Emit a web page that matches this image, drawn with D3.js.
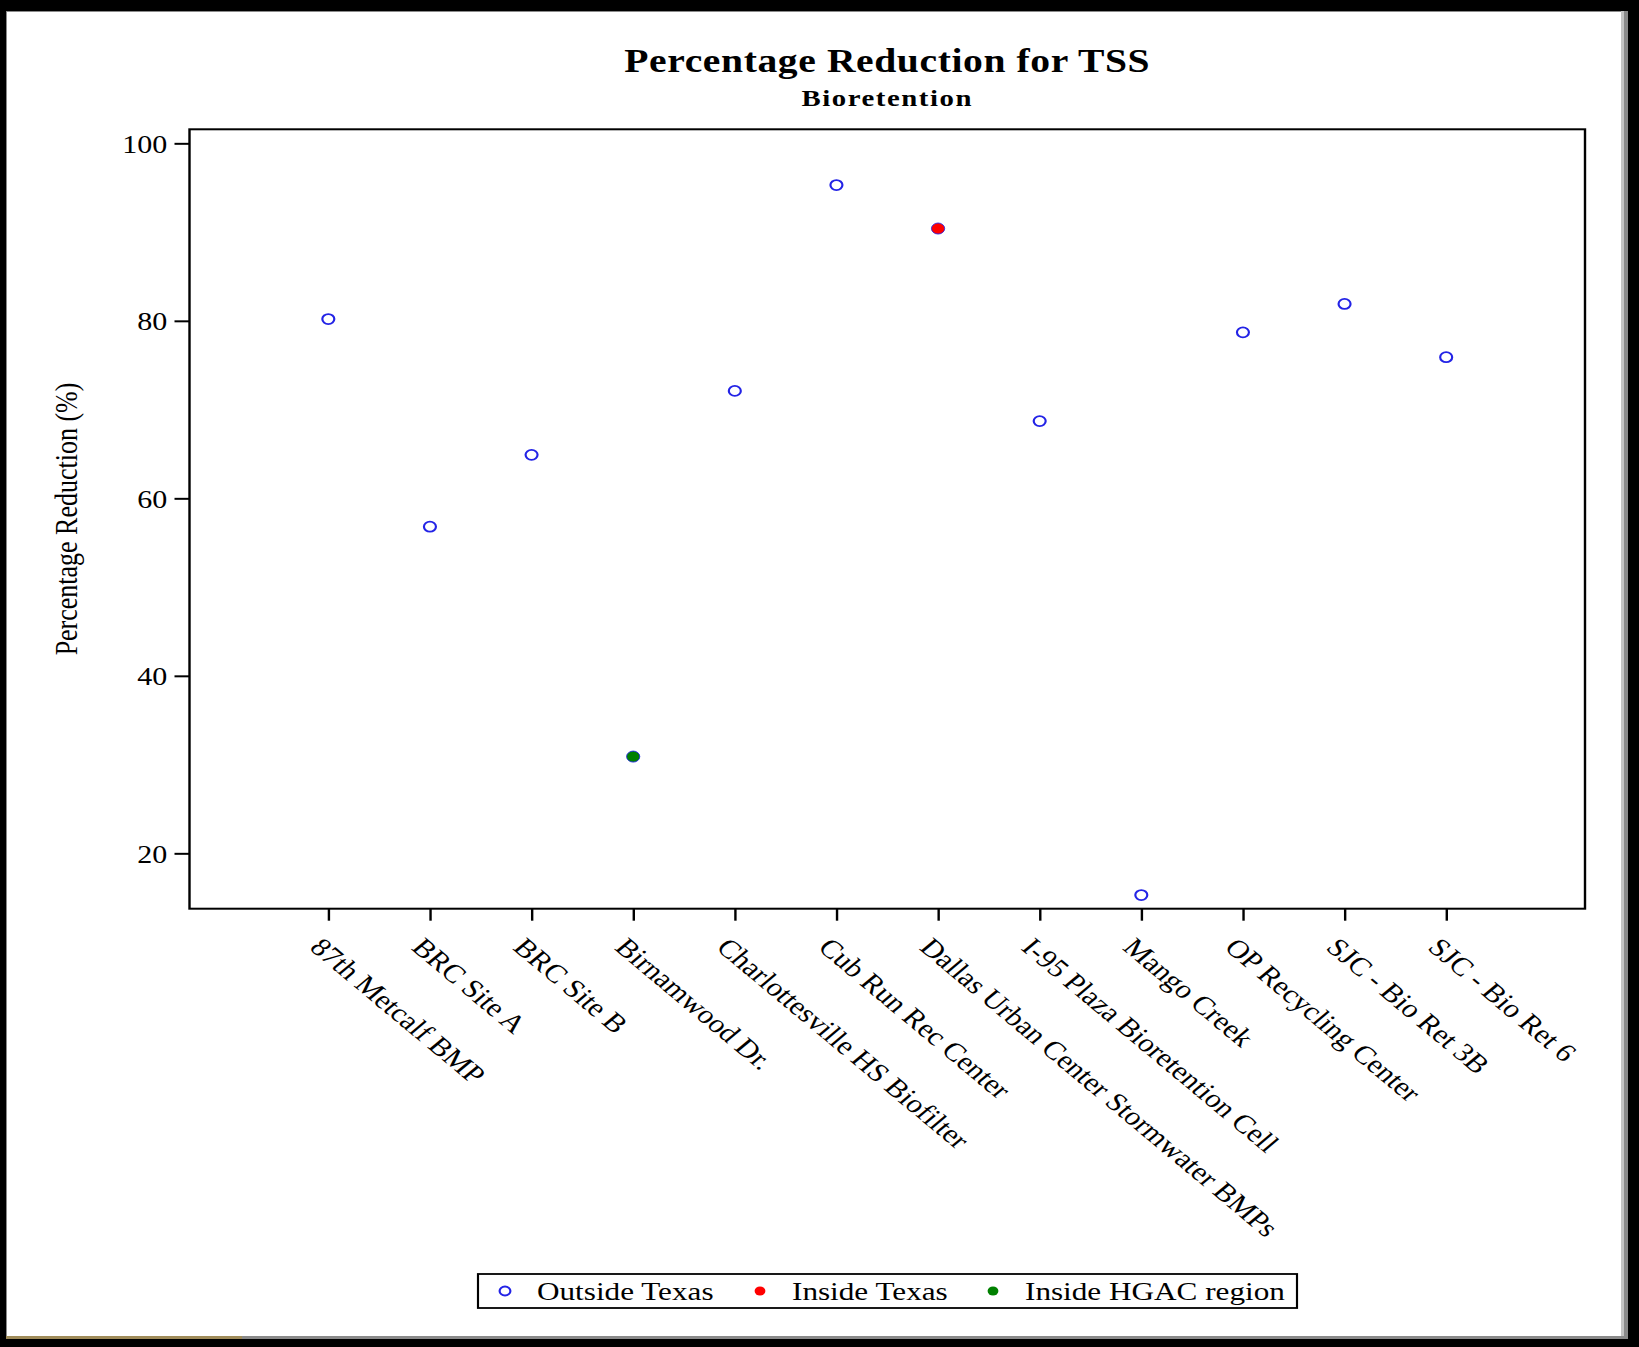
<!DOCTYPE html>
<html>
<head>
<meta charset="utf-8">
<script src="https://cdn.jsdelivr.net/npm/d3@7"></script>
<style>
  html, body { margin: 0; padding: 0; background: #000; }
  svg { display: block; }
</style>
</head>
<body>
<svg id="chart"></svg>
<script>
/* ── Data ── */
const sites = [
  '87th Metcalf BMP', 'BRC Site A', 'BRC Site B', 'Birnamwood Dr.',
  'Charlottesville HS Biofilter', 'Cub Run Rec Center',
  'Dallas Urban Center Stormwater BMPs', 'I-95 Plaza Bioretention Cell',
  'Mango Creek', 'OP Recycling Center', 'SJC - Bio Ret 3B', 'SJC - Bio Ret 6'
];
const reduction = [80.2, 56.8, 64.9, 30.9, 72.1, 95.3, 90.4, 68.7, 15.3, 78.7, 81.9, 75.9];
const region = [
  'Outside Texas', 'Outside Texas', 'Outside Texas', 'Inside HGAC region',
  'Outside Texas', 'Outside Texas', 'Inside Texas', 'Outside Texas',
  'Outside Texas', 'Outside Texas', 'Outside Texas', 'Outside Texas'
];
const regions = ['Outside Texas', 'Inside Texas', 'Inside HGAC region'];
const yTicks = [20, 40, 60, 80, 100];

const FILL = { 'Outside Texas': 'none', 'Inside Texas': '#ff0000', 'Inside HGAC region': '#008000' };
const FONT = '"Liberation Serif", "Times New Roman", serif';

/* ── Dimensions ──
   The original picture is stretched sideways, so the chart is drawn in a
   narrower viewBox and scaled to the window without keeping aspect. */
const W = 1639, H = 1347, SX = 1.2;
const fx = (v) => v / SX;          // window px -> viewBox x
const VW = W / SX;

const svg = d3.select('#chart')
  .attr('width', W)
  .attr('height', H)
  .attr('viewBox', `0 0 ${VW} ${H}`)
  .attr('preserveAspectRatio', 'none');

/* ── Frame ── */
svg.append('rect').attr('x', 0).attr('y', 0).attr('width', VW).attr('height', H).attr('fill', '#000');
svg.append('rect').attr('x', fx(6)).attr('y', 11).attr('width', fx(1628 - 6)).attr('height', 1339 - 11).attr('fill', '#8a8a8a');
svg.append('rect').attr('x', fx(6)).attr('y', 1336).attr('width', fx(242 - 6)).attr('height', 3).attr('fill', '#a08c5a');
svg.append('rect').attr('x', fx(1621)).attr('y', 11).attr('width', fx(3)).attr('height', 1325).attr('fill', '#c4c4c4');
svg.append('rect').attr('x', fx(7)).attr('y', 12).attr('width', fx(1621 - 7)).attr('height', 1336 - 12).attr('fill', '#fff');

/* ── Plot area ── */
const plot = { left: fx(189.5), right: fx(1585), top: 129.3, bottom: 908.7 };

const x = d3.scalePoint().domain(sites).range([plot.left, plot.right]).padding(1.366);
const y = d3.scaleLinear().domain([13.76, 101.58]).range([plot.bottom, plot.top]);

/* ── Titles ── */
const cx = (plot.left + plot.right) / 2;
svg.append('text')
  .attr('x', cx).attr('y', 72)
  .attr('text-anchor', 'middle')
  .attr('font-family', FONT).attr('font-weight', 700).attr('font-size', 33)
  .attr('letter-spacing', 0.5)
  .text('Percentage Reduction for TSS');
svg.append('text')
  .attr('x', cx).attr('y', 106.5)
  .attr('text-anchor', 'middle')
  .attr('font-family', FONT).attr('font-weight', 700).attr('font-size', 24)
  .attr('letter-spacing', 1.3)
  .text('Bioretention');

/* ── Frame of plot ── */
svg.append('rect')
  .attr('x', plot.left).attr('y', plot.top)
  .attr('width', plot.right - plot.left).attr('height', plot.bottom - plot.top)
  .attr('fill', 'none').attr('stroke', '#000').attr('stroke-width', 2);

/* ── Y axis ── */
svg.append('g')
  .attr('transform', `translate(${plot.left},0)`)
  .call(d3.axisLeft(y).tickValues(yTicks).tickSize(12.5).tickPadding(6))
  .call((a) => a.select('.domain').remove())
  .call((a) => a.selectAll('line').attr('stroke', '#000').attr('stroke-width', 2))
  .call((a) => a.selectAll('text')
    .attr('font-family', FONT).attr('font-size', 25).attr('fill', '#000')
    .attr('dy', '0.35em'));

svg.append('text')
  .attr('transform', `translate(${fx(77)},${(plot.top + plot.bottom) / 2}) rotate(-90)`)
  .attr('text-anchor', 'middle')
  .attr('font-family', FONT).attr('font-size', 26)
  .text('Percentage Reduction (%)');

/* ── X axis ── */
svg.append('g')
  .attr('transform', `translate(0,${plot.bottom})`)
  .call(d3.axisBottom(x).tickSize(12))
  .call((a) => a.select('.domain').remove())
  .call((a) => a.selectAll('line').attr('stroke', '#000').attr('stroke-width', 2))
  .call((a) => a.selectAll('text')
    .attr('x', 0).attr('y', 0).attr('dy', 0)
    .attr('text-anchor', 'start')
    .attr('transform', 'translate(-17,40) rotate(45)')
    .attr('font-family', FONT).attr('font-size', 25.8).attr('fill', '#000'));

/* ── Points ── */
svg.append('g')
  .selectAll('circle')
  .data(sites.map((s, i) => ({ site: s, v: reduction[i], r: region[i] })))
  .join('circle')
  .attr('cx', (d) => x(d.site))
  .attr('cy', (d) => y(d.v))
  .attr('r', (d) => d.r === 'Outside Texas' ? 5 : 5.5)
  .attr('fill', (d) => FILL[d.r])
  .attr('stroke', '#2323e6')
  .attr('stroke-width', (d) => d.r === 'Outside Texas' ? 1.8 : 0.8);

/* ── Legend ── */
const legend = { left: fx(478), right: fx(1297), top: 1274, bottom: 1308 };
svg.append('rect')
  .attr('x', legend.left).attr('y', legend.top)
  .attr('width', legend.right - legend.left).attr('height', legend.bottom - legend.top)
  .attr('fill', '#fff').attr('stroke', '#000').attr('stroke-width', 1.8);

const legendX = [fx(505), fx(760), fx(993)];
const li = svg.append('g').selectAll('g')
  .data(regions)
  .join('g')
  .attr('transform', (d, i) => `translate(${legendX[i]},${(legend.top + legend.bottom) / 2})`);
li.append('circle')
  .attr('r', 4.5)
  .attr('fill', (d) => FILL[d] === 'none' ? 'none' : FILL[d])
  .attr('stroke', (d) => FILL[d] === 'none' ? '#2323e6' : 'none')
  .attr('stroke-width', 1.8);
li.append('text')
  .attr('x', fx(32)).attr('dy', '0.35em')
  .attr('font-family', FONT).attr('font-size', 26)
  .text((d) => d);
</script>
</body>
</html>
